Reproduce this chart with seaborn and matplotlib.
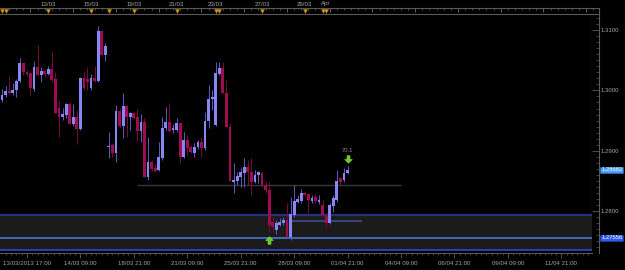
import numpy as np
import pandas as pd
import matplotlib
matplotlib.use("Agg")
import matplotlib.pyplot as plt
import matplotlib.transforms as mtransforms
from matplotlib.path import Path
from matplotlib.ticker import FixedLocator, MultipleLocator
import seaborn as sns

# ---------------- data ----------------
opens = [1.2984, 1.2992, 1.2999, 1.2996, 1.3001, 1.3016, 1.3045, 1.3030, 1.3029, 1.3002,
         1.3039, 1.3025, 1.3032, 1.3027, 1.3035, 1.3019, 1.2971, 1.2956, 1.2959, 1.2977,
         1.2944, 1.2956, 1.2936, 1.3021, 1.3019, 1.3004, 1.3021, 1.3016, 1.3098, 1.3059,
         1.2906, 1.2910, 1.2896, 1.2966, 1.2941, 1.2974, 1.2956, 1.2963, 1.2956, 1.2933,
         1.2948, 1.2857, 1.2881, 1.2871, 1.2868, 1.2888, 1.2938, 1.2948, 1.2934, 1.2934,
         1.2946, 1.2890, 1.2918, 1.2906, 1.2896, 1.2906, 1.2915, 1.2905, 1.2949, 1.2986,
         1.2943, 1.3027, 1.3037, 1.2996, 1.2939, 1.2848, 1.2850, 1.2857, 1.2863, 1.2873,
         1.2865, 1.2848, 1.2860, 1.2863, 1.2843, 1.2835, 1.2782, 1.2769, 1.2777, 1.2780,
         1.2785, 1.2757, 1.2794, 1.2815, 1.2817, 1.2830, 1.2828, 1.2817, 1.2823, 1.2815,
         1.2810, 1.2792, 1.2780, 1.2809, 1.2818, 1.2855, 1.2852, 1.2863]
highs = [1.3002, 1.3007, 1.3024, 1.3012, 1.3019, 1.3054, 1.3045, 1.3034, 1.3030, 1.3049,
         1.3075, 1.3039, 1.3034, 1.3040, 1.3064, 1.3030, 1.2984, 1.2971, 1.2979, 1.2981,
         1.2977, 1.2968, 1.3022, 1.3032, 1.3039, 1.3027, 1.3040, 1.3107, 1.3100, 1.3078,
         1.2931, 1.2913, 1.2976, 1.2971, 1.2996, 1.2976, 1.2964, 1.2964, 1.2969, 1.2961,
         1.2954, 1.2923, 1.2885, 1.2878, 1.2915, 1.2956, 1.2972, 1.2979, 1.2944, 1.2954,
         1.2948, 1.2931, 1.2926, 1.2910, 1.2913, 1.2918, 1.2923, 1.2964, 1.3009, 1.3001,
         1.3047, 1.3047, 1.3047, 1.3017, 1.2946, 1.2880, 1.2865, 1.2871, 1.2888, 1.2885,
         1.2888, 1.2868, 1.2867, 1.2865, 1.2848, 1.2848, 1.2790, 1.2785, 1.2789, 1.2790,
         1.2814, 1.2823, 1.2843, 1.2827, 1.2837, 1.2832, 1.2830, 1.2827, 1.2828, 1.2827,
         1.2818, 1.2797, 1.2814, 1.2827, 1.2868, 1.2857, 1.2871, 1.2875]
lows = [1.2981, 1.2989, 1.2994, 1.2992, 1.2989, 1.3014, 1.3025, 1.3024, 1.2992, 1.2999,
        1.3024, 1.3014, 1.3022, 1.3025, 1.3014, 1.2963, 1.2923, 1.2951, 1.2954, 1.2944,
        1.2941, 1.2911, 1.2934, 1.3001, 1.3001, 1.3001, 1.3014, 1.3014, 1.3059, 1.3049,
        1.2888, 1.2890, 1.2881, 1.2938, 1.2921, 1.2923, 1.2934, 1.2953, 1.2916, 1.2915,
        1.2857, 1.2852, 1.2867, 1.2865, 1.2867, 1.2885, 1.2934, 1.2931, 1.2929, 1.2931,
        1.2880, 1.2888, 1.2893, 1.2896, 1.2890, 1.2903, 1.2890, 1.2901, 1.2938, 1.2968,
        1.2941, 1.3025, 1.2996, 1.2939, 1.2850, 1.2830, 1.2843, 1.2840, 1.2840, 1.2843,
        1.2827, 1.2847, 1.2847, 1.2840, 1.2830, 1.2765, 1.2765, 1.2762, 1.2775, 1.2777,
        1.2757, 1.2752, 1.2790, 1.2814, 1.2814, 1.2825, 1.2795, 1.2814, 1.2814, 1.2812,
        1.2790, 1.2772, 1.2779, 1.2799, 1.2815, 1.2843, 1.2848, 1.2861]
closes = [1.2992, 1.2999, 1.2996, 1.3001, 1.3016, 1.3045, 1.3030, 1.3027, 1.3004, 1.3039,
          1.3025, 1.3032, 1.3027, 1.3035, 1.3017, 1.2963, 1.2956, 1.2961, 1.2977, 1.2944,
          1.2956, 1.2936, 1.3021, 1.3004, 1.3014, 1.3021, 1.3016, 1.3098, 1.3059, 1.3074,
          1.2908, 1.2896, 1.2966, 1.2941, 1.2974, 1.2956, 1.2963, 1.2954, 1.2933, 1.2948,
          1.2857, 1.2881, 1.2870, 1.2867, 1.2890, 1.2938, 1.2948, 1.2933, 1.2938, 1.2946,
          1.2890, 1.2918, 1.2905, 1.2898, 1.2906, 1.2915, 1.2905, 1.2949, 1.2986, 1.2989,
          1.3029, 1.3037, 1.2996, 1.2939, 1.2850, 1.2852, 1.2858, 1.2865, 1.2873, 1.2865,
          1.2848, 1.2860, 1.2865, 1.2843, 1.2835, 1.2777, 1.2774, 1.2780, 1.2782, 1.2785,
          1.2757, 1.2795, 1.2817, 1.2820, 1.2830, 1.2827, 1.2818, 1.2822, 1.2817, 1.2818,
          1.2794, 1.2780, 1.2810, 1.2822, 1.2850, 1.2848, 1.2863, 1.2868]

x_tick_idx = [7, 22, 37, 52, 67, 82, 97, 112, 127, 142, 157]
x_tick_labels = ["13/03/2013 17:00", "14/03 09:00", "18/03 21:00", "21/03 09:00",
                 "25/03 21:00", "28/03 09:00", "01/04 21:00", "04/04 09:00",
                 "06/04 21:00", "09/04 09:00", "11/04 21:00"]
top_label_idx = [13, 25, 37, 49, 60, 73, 85, 91]
top_labels = ["13/03", "15/03", "19/03", "21/03", "23/03", "27/03", "29/03", "Apr"]
event_idx = [0, 1, 13, 25, 30, 37, 49, 60, 61, 73, 85, 90, 91]
y_ticks = [1.28, 1.29, 1.30, 1.31]

band_top = 1.2794
band_mid = 1.27556
band_bottom = 1.2736
last_price = 1.28682
grey_level, grey_start, grey_end = 1.2844, 38, 112
blue_level, blue_start, blue_end = 1.2783, 81, 101
arrow_up = (75, 1.2752)
arrow_down = (97, 1.2887)
arrow_text = ("70.1", 97, 1.2897)

# ---------------- style ----------------
sns.set_theme(style="dark")
plt.rcParams['font.family'] = ['Liberation Sans', 'DejaVu Sans']
BG = "#000000"
UP_BODY, UP_WICK = "#8686f4", "#5a5ac4"
DN_BODY, DN_WICK = "#a00c50", "#780a3c"
GRID_COL = "#5a5a5a"
TXT = "#a4a4a4"

W, H = 625, 270
fig = plt.figure(figsize=(W / 100, H / 100), dpi=100, facecolor=BG)

# pixel geometry
px_left, px_right, px_top, px_bottom = 0, 592, 14, 253
ax = fig.add_axes([px_left / W, (H - px_bottom) / H,
                   (px_right - px_left) / W, (px_bottom - px_top) / H])
ax.set_facecolor(BG)
ax.grid(False)

x0 = -0.56
bar_px = 3.5625
x1 = x0 + (px_right - px_left) / bar_px
ax.set_xlim(x0, x1)
ax.set_ylim(1.27307, 1.31265)

df = pd.DataFrame({"o": opens, "h": highs, "l": lows, "c": closes})
df["i"] = np.arange(len(df))
up = df["c"] >= df["o"]

# band zone
ax.axhspan(band_bottom, band_top, color="#1b1b1b", zorder=0, lw=0)
ax.axhline(band_top, color="#26337a", lw=1.6, zorder=1)
ax.axhline(band_mid, color="#4f7de8", lw=1.1, zorder=1)
ax.axhline(band_bottom, color="#3050d8", lw=1.1, zorder=1)
ax.hlines(grey_level, grey_start, grey_end, color="#383838", lw=1.0, zorder=1)
ax.hlines(blue_level, blue_start, blue_end, color="#3b4a7c", lw=1.3, zorder=1)

# candles
ax.vlines(df["i"], df["l"], df["h"], colors=np.where(up, UP_WICK, DN_WICK), lw=0.7, zorder=2)
body_lo = np.minimum(df["o"], df["c"])
body_h = np.maximum(np.abs(df["c"] - df["o"]), 0.00009)
ax.bar(df["i"], body_h, bottom=body_lo, width=0.8,
       color=np.where(up, UP_BODY, DN_BODY), lw=0, zorder=3)

# arrows
arrow_verts = [(-0.22, -0.55), (0.22, -0.55), (0.22, 0.0), (0.55, 0.0), (0.0, 0.55),
               (-0.55, 0.0), (-0.22, 0.0), (-0.22, -0.55)]
up_marker = Path(arrow_verts)
down_marker = Path([(x, -y) for x, y in arrow_verts])
sns.scatterplot(x=[arrow_up[0]], y=[arrow_up[1]], marker=up_marker, s=30,
                color="#66cc14", edgecolor="#a8f060", linewidth=0.3, ax=ax, zorder=5)
sns.scatterplot(x=[arrow_down[0]], y=[arrow_down[1]], marker=down_marker, s=30,
                color="#66cc14", edgecolor="#a8f060", linewidth=0.3, ax=ax, zorder=5)
ax.text(arrow_text[1], arrow_text[2], arrow_text[0], color="#8c8c8c", fontsize=4.2,
        ha="center", va="bottom", zorder=5)

# spines / bottom axis
for s in ["left", "top"]:
    ax.spines[s].set_visible(False)
for s in ["bottom", "right"]:
    ax.spines[s].set_color(GRID_COL)
    ax.spines[s].set_linewidth(0.8)
ax.set_xticks(x_tick_idx)
ax.set_xticklabels(x_tick_labels)
ax.xaxis.set_minor_locator(FixedLocator(np.arange(x_tick_idx[0] - 6, x1, 1.5)))
ax.tick_params(axis="x", which="major", direction="out", length=3.5, width=0.6,
               color=GRID_COL, labelsize=4.4, labelcolor=TXT, pad=2.6, bottom=True)
ax.tick_params(axis="x", which="minor", direction="out", length=1.6, width=0.5,
               color=GRID_COL, bottom=True)
ax.tick_params(axis="y", left=False, right=False, labelleft=False)
ax.set_xlabel("")
ax.set_ylabel("")

# right price strip
axr = fig.add_axes([px_right / W, (H - px_bottom) / H, 7 / W, (px_bottom - px_top) / H])
axr.set_facecolor(BG)
axr.grid(False)
axr.set_ylim(ax.get_ylim())
axr.set_xticks([])
for s in ["left", "top", "bottom"]:
    axr.spines[s].set_visible(False)
axr.spines["right"].set_color(GRID_COL)
axr.spines["right"].set_linewidth(0.8)
axr.yaxis.tick_right()
axr.set_yticks(y_ticks)
axr.set_yticklabels([f"{v:.4f}" for v in y_ticks])
axr.yaxis.set_minor_locator(MultipleLocator(0.001))
axr.tick_params(axis="y", which="major", direction="in", length=5, width=0.6,
                color=GRID_COL, labelsize=4.3, labelcolor=TXT, pad=1.2,
                right=True, left=False, labelright=True, labelleft=False)
axr.tick_params(axis="y", which="minor", direction="in", length=2.2, width=0.5,
                color=GRID_COL, right=True, left=False)
tr = mtransforms.blended_transform_factory(axr.transAxes, axr.transData)
axr.annotate(f"{last_price:.5f}", xy=(1.0, last_price), xycoords=tr, xytext=(1.5, 0),
             textcoords="offset points", ha="left", va="center", fontsize=4.2,
             color="#ffffff",
             bbox=dict(boxstyle="square,pad=0.16", fc="#4aa0f8", ec="#2a70c8", lw=0.4))
axr.annotate(f"{band_mid:.5f}", xy=(1.0, band_mid), xycoords=tr, xytext=(1.5, 0),
             textcoords="offset points", ha="left", va="center", fontsize=4.2,
             color="#ffffff",
             bbox=dict(boxstyle="square,pad=0.16", fc="#2f5ff0", ec="#2040c0", lw=0.4))

# top date strip
top_y0, top_y1, top_right = 8, 14, 599
axt = fig.add_axes([0, (H - top_y1) / H, top_right / W, (top_y1 - top_y0) / H])
axt.set_facecolor(BG)
axt.grid(False)
axt.set_xlim(x0, x0 + top_right / bar_px)
axt.set_ylim(0, 1)
axt.spines["left"].set_visible(False)
for s in ["top", "bottom", "right"]:
    axt.spines[s].set_color(GRID_COL)
    axt.spines[s].set_linewidth(0.8)
axt.set_yticks([])
axt.xaxis.tick_top()
axt.xaxis.set_major_locator(FixedLocator(np.arange(8, x0 + top_right / bar_px, 12)))
axt.xaxis.set_minor_locator(FixedLocator(np.arange(0, x0 + top_right / bar_px, 2)))
axt.tick_params(axis="x", which="major", direction="in", length=2.6, width=0.6,
                color="#707070", top=True, bottom=False, labeltop=False, labelbottom=False)
axt.tick_params(axis="x", which="minor", direction="in", length=1.4, width=0.5,
                color="#707070", top=True, bottom=False)
sns.scatterplot(x=event_idx, y=[0.45] * len(event_idx), marker="v", s=9,
                color="#e0a210", edgecolor="#a06a00", linewidth=0.3, ax=axt,
                zorder=5, clip_on=False)
ttr = mtransforms.blended_transform_factory(axt.transData, axt.transAxes)
for idx, lab in zip(top_label_idx, top_labels):
    axt.text(idx, 1.25, lab, transform=ttr, ha="center", va="bottom",
             fontsize=4.4, color=TXT, clip_on=False)
axt.set_xlabel("")
axt.set_ylabel("")

fig.savefig("out.png", dpi=100, facecolor=BG)
